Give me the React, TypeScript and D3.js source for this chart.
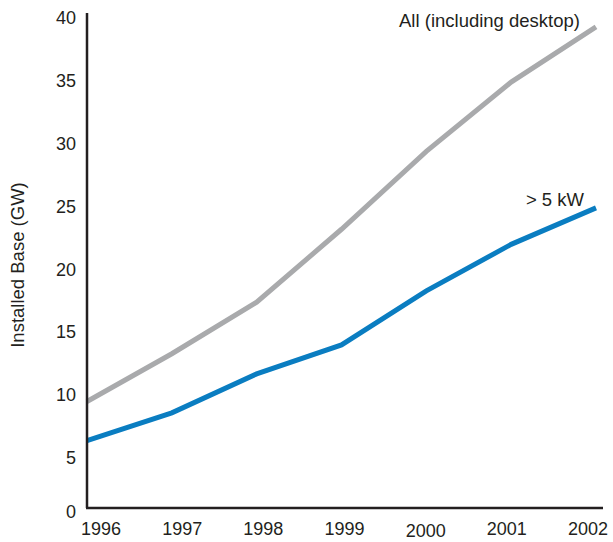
import React from "react";
import * as d3 from "d3";

const years = [1996, 1997, 1998, 1999, 2000, 2001, 2002];
const allSeries = [9.5, 13.3, 17.4, 23.2, 29.4, 34.9, 39.3];
const largeSeries = [6.4, 8.6, 11.7, 14.0, 18.3, 22.0, 24.9];
const yTicks = [0, 5, 10, 15, 20, 25, 30, 35, 40];

const width = 613;
const height = 542;
const axisLeft = 87;
const axisRight = 603;
const axisTop = 13;
const axisBottom = 508;

const font = "'Liberation Sans', Arial, sans-serif";

export default function App() {
  const x = d3.scalePoint<number>().domain(years).range([axisLeft, 596]);
  const xLabel = d3.scalePoint<number>().domain(years).range([101, 588]);
  const y = d3.scaleLinear().domain([0, 40]).range([521, 18]);

  const line = d3
    .line<number>()
    .x((_, i) => x(years[i])!)
    .y((d) => y(d));

  return (
    <svg
      width={width}
      height={height}
      style={{ position: "absolute", left: 0, top: 0 }}
      fontFamily={font}
    >
      <rect width={width} height={height} fill="#fff" />

      <path d={line(allSeries)!} fill="none" stroke="#a9aaac" strokeWidth={5} />
      <path d={line(largeSeries)!} fill="none" stroke="#0a7dc1" strokeWidth={5} />

      {/* axes */}
      <line x1={axisLeft} x2={axisLeft} y1={axisTop} y2={axisBottom} stroke="#231f20" strokeWidth={2.5} />
      <line x1={axisLeft - 1} x2={axisRight} y1={axisBottom} y2={axisBottom} stroke="#231f20" strokeWidth={2.5} />

      {yTicks.map((t) => (
        <text
          key={t}
          x={76}
          y={t === 0 ? 512 : y(t)}
          textAnchor="end"
          dominantBaseline="central"
          fontSize={18}
          fill="#231f20"
        >
          {t}
        </text>
      ))}

      {years.map((yr) => (
        <text
          key={yr}
          x={xLabel(yr)}
          y={yr === 2000 ? 531 : 529}
          textAnchor="middle"
          dominantBaseline="central"
          fontSize={18}
          fill="#231f20"
        >
          {yr}
        </text>
      ))}

      <text
        transform={`translate(17, 265) rotate(-90)`}
        textAnchor="middle"
        dominantBaseline="central"
        fontSize={18.5}
        fill="#231f20"
      >
        Installed Base (GW)
      </text>

      <text x={580} y={20} textAnchor="end" dominantBaseline="central" fontSize={18.5} fill="#231f20">
        All (including desktop)
      </text>
      <text x={584} y={199} textAnchor="end" dominantBaseline="central" fontSize={18.5} fill="#231f20">
        &gt; 5 kW
      </text>
    </svg>
  );
}
